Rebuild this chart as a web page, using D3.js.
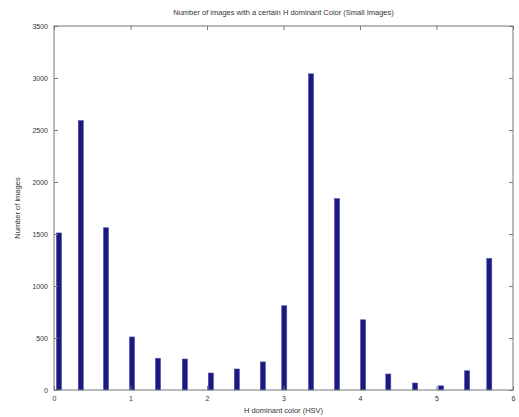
<!DOCTYPE html>
<html><head><meta charset="utf-8">
<script src="https://cdn.jsdelivr.net/npm/d3@7"></script>
<style>body{margin:0;background:#fff}svg{display:block}text{font-family:"Liberation Sans",Arial,sans-serif;fill:#333}</style>
</head><body><svg id="c" width="519" height="417"></svg>
<script>
const binCenters = [0.065, 0.35, 0.68, 1.02, 1.36, 1.71, 2.05, 2.39, 2.73, 3.01, 3.36, 3.70, 4.04, 4.37, 4.72, 5.06, 5.40, 5.69];
const counts = [1510, 2590, 1560, 510, 305, 298, 163, 202, 270, 810, 3040, 1840, 675, 154, 67, 40, 185, 1265];
const xTicks = [0, 1, 2, 3, 4, 5, 6];
const yTicks = [0, 500, 1000, 1500, 2000, 2500, 3000, 3500];
const title = "Number of images with a certain H dominant Color (Small Images)";
const xLabel = "H dominant color (HSV)";
const yLabel = "Number of images";

const svg = d3.select("#c");
const L = 54, R = 513, T = 26, B = 390;
const x = d3.scaleLinear().domain([0, 6]).range([L, R]);
const y = d3.scaleLinear().domain([0, 3500]).range([B, T]);
const axisColor = "#777";

// bars
svg.append("g").selectAll("rect").data(counts).join("rect")
  .attr("x", (d, i) => x(binCenters[i]) - 2.5)
  .attr("width", 5)
  .attr("y", d => y(d))
  .attr("height", d => B - y(d))
  .attr("fill", "#1a1a7e")
  .attr("stroke", "#4848b0")
  .attr("stroke-width", 0.6);

// box
svg.append("rect").attr("x", L).attr("y", T).attr("width", R - L).attr("height", B - T)
  .attr("fill", "none").attr("stroke", axisColor).attr("stroke-width", 1);

const fs = 7;
// x axis bottom and top
const gx = svg.append("g").attr("transform", `translate(0,${B})`)
  .call(d3.axisBottom(x).tickValues(xTicks).tickSize(-4).tickPadding(6).tickFormat(d3.format("d")));
const gxt = svg.append("g").attr("transform", `translate(0,${T})`)
  .call(d3.axisTop(x).tickValues(xTicks).tickSize(-4).tickFormat(""));
const gy = svg.append("g").attr("transform", `translate(${L},0)`)
  .call(d3.axisLeft(y).tickValues(yTicks).tickSize(-4).tickPadding(6).tickFormat(d3.format("d")));
const gyr = svg.append("g").attr("transform", `translate(${R},0)`)
  .call(d3.axisRight(y).tickValues(yTicks).tickSize(-4).tickFormat(""));
[gx, gxt, gy, gyr].forEach(g => {
  g.select(".domain").remove();
  g.selectAll(".tick line").attr("stroke", axisColor);
  g.selectAll("text").attr("font-size", fs).attr("font-family", '"Liberation Sans",Arial,sans-serif').attr("fill", "#444");
});

svg.append("text").attr("x", (L + R) / 2).attr("y", 15).attr("text-anchor", "middle")
  .attr("font-size", 7.5).text(title);
svg.append("text").attr("x", (L + R) / 2).attr("y", 413).attr("text-anchor", "middle")
  .attr("font-size", 7.5).text(xLabel);
svg.append("text").attr("transform", `translate(20,${(T + B) / 2}) rotate(-90)`).attr("text-anchor", "middle")
  .attr("font-size", 7.5).text(yLabel);
</script></body></html>
